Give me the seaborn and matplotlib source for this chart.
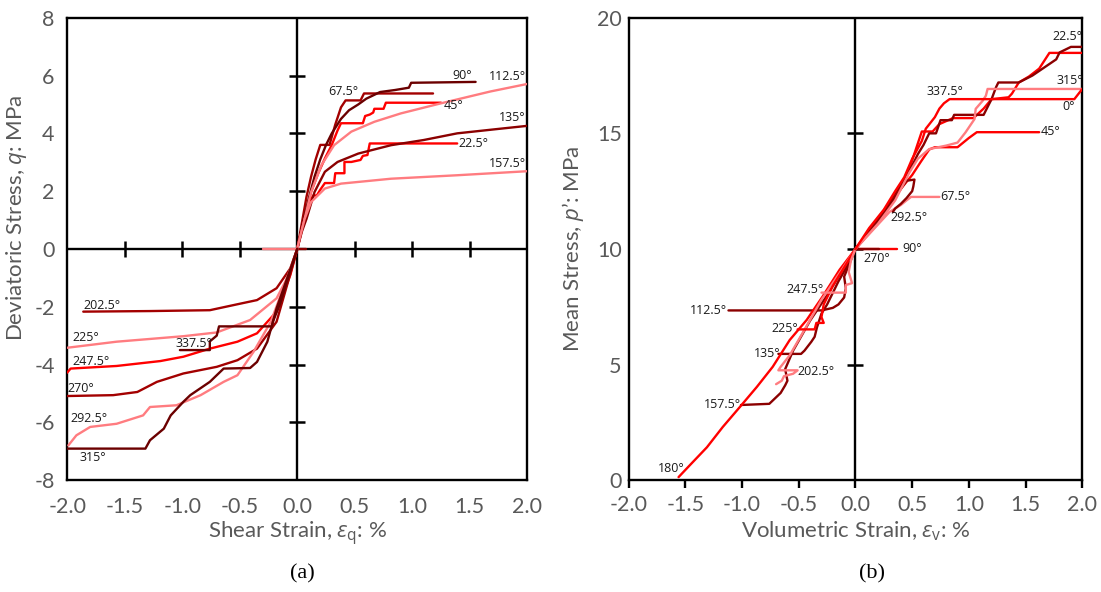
import matplotlib
matplotlib.use("Agg")
import matplotlib.pyplot as plt
import numpy as np
import pandas as pd
import seaborn as sns

# ---------------- panel (a): shear strain (%) vs deviatoric stress q (MPa) ----------------
a_x_0 = [0, 0.08]
a_q_0 = [0, 0]
a_x_22_5 = [0, 0.05, 0.10, 0.14, 0.17, 0.20, 0.24, 0.32, 0.33, 0.41, 0.41, 0.47, 0.55, 0.57, 0.61, 0.63, 1.0, 1.39]
a_q_22_5 = [0, 0.9, 1.6, 1.85, 1.85, 2.05, 2.28, 2.28, 2.62, 2.62, 3.01, 3.01, 3.08, 3.22, 3.25, 3.65, 3.65, 3.65]
a_x_45 = [0, 0.06, 0.12, 0.18, 0.24, 0.30, 0.35, 0.38, 0.57, 0.59, 0.63, 0.66, 0.67, 0.75, 0.77, 1.25]
a_q_45 = [0, 1.0, 1.97, 2.6, 3.13, 3.6, 4.1, 4.35, 4.35, 4.6, 4.65, 4.72, 4.85, 4.85, 5.06, 5.06]
a_x_67_5 = [0, 0.04, 0.08, 0.12, 0.16, 0.20, 0.28, 0.33, 0.38, 0.42, 0.55, 0.58, 1.18]
a_q_67_5 = [0, 0.9, 1.8, 2.5, 3.1, 3.6, 3.6, 4.3, 4.9, 5.14, 5.14, 5.38, 5.38]
a_x_90 = [0, 0.05, 0.10, 0.15, 0.20, 0.25, 0.30, 0.38, 0.45, 0.53, 0.60, 0.72, 0.85, 0.97, 0.99, 1.55]
a_q_90 = [0, 0.9, 1.75, 2.5, 3.1, 3.6, 4.0, 4.5, 4.8, 5.0, 5.2, 5.43, 5.5, 5.58, 5.75, 5.78]
a_x_112_5 = [0, 0.05, 0.12, 0.21, 0.32, 0.47, 0.67, 0.90, 1.25, 1.68, 2.0]
a_q_112_5 = [0, 0.81, 1.97, 2.9, 3.59, 4.06, 4.40, 4.69, 5.04, 5.45, 5.71]
a_x_135 = [0, 0.04, 0.08, 0.15, 0.24, 0.35, 0.53, 0.815, 1.10, 1.39, 1.74, 2.0]
a_q_135 = [0, 0.6, 1.04, 1.97, 2.67, 3.01, 3.30, 3.59, 3.77, 4.0, 4.15, 4.26]
a_x_157_5 = [0, 0.02, 0.064, 0.12, 0.24, 0.38, 0.815, 1.39, 2.0]
a_q_157_5 = [0, 0.35, 1.04, 1.62, 2.09, 2.26, 2.43, 2.55, 2.69]
a_x_180 = [0, -0.3]
a_q_180 = [0, 0]
a_x_202_5 = [0, -0.06, -0.18, -0.35, -0.55, -0.76, -1.28, -1.86]
a_q_202_5 = [0, -0.67, -1.36, -1.77, -1.94, -2.12, -2.15, -2.17]
a_x_225 = [0, -0.06, -0.18, -0.41, -0.70, -0.99, -1.57, -2.0]
a_q_225 = [0, -0.79, -1.71, -2.46, -2.89, -3.02, -3.21, -3.42]
a_x_247_5 = [0, -0.06, -0.18, -0.35, -0.52, -0.76, -0.99, -1.19, -1.57, -1.97, -2.0]
a_q_247_5 = [0, -0.9, -2.17, -2.92, -3.21, -3.45, -3.73, -3.88, -4.05, -4.14, -4.28]
a_x_270 = [0, -0.08, -0.18, -0.35, -0.52, -0.70, -0.99, -1.22, -1.39, -1.6, -2.0]
a_q_270 = [0, -1.13, -2.52, -3.45, -3.85, -4.08, -4.31, -4.6, -4.95, -5.06, -5.09]
a_x_292_5 = [0, -0.09, -0.23, -0.38, -0.52, -0.64, -0.84, -1.05, -1.28, -1.34, -1.57, -1.80, -1.92, -1.99]
a_q_292_5 = [0, -1.02, -2.52, -3.56, -4.37, -4.6, -5.06, -5.41, -5.47, -5.76, -6.05, -6.16, -6.45, -6.80]
a_x_315 = [0, -0.06, -0.18, -0.26, -0.35, -0.41, -0.64, -0.76, -0.93, -0.99, -1.10, -1.16, -1.28, -1.32, -2.0]
a_q_315 = [0, -0.7, -2.06, -3.21, -3.91, -4.12, -4.14, -4.6, -5.06, -5.29, -5.76, -6.22, -6.62, -6.91, -6.91]
a_x_337_5 = [0, -0.08, -0.15, -0.21, -0.22, -0.68, -0.70, -0.76, -0.76, -1.02]
a_q_337_5 = [0, -1.0, -1.9, -2.5, -2.68, -2.68, -3.0, -3.2, -3.5, -3.5]

# ---------------- panel (b): volumetric strain (%) vs mean stress p' (MPa) ----------------
b_x_0 = [0, 0.15, 0.3, 0.45, 0.585, 0.68, 0.74, 0.86, 1.04, 1.13, 1.2, 1.35, 1.38, 1.44, 1.53, 1.62, 1.71, 2.0]
b_p_0 = [10, 11.0, 12.0, 13.1, 15.08, 15.08, 15.4, 15.66, 15.66, 16.07, 16.48, 16.56, 16.72, 17.2, 17.46, 17.8, 18.48, 18.48]
b_x_22_5 = [0, 0.1, 0.25, 0.4, 0.5, 0.55, 0.6, 0.65, 0.71, 0.75, 0.85, 0.87, 1.13, 1.2, 1.24, 1.26, 1.44, 1.56, 1.65, 1.77, 1.8, 1.9, 2.0]
b_p_22_5 = [10, 10.6, 11.6, 12.7, 13.6, 14.1, 14.5, 15.0, 15.0, 15.57, 15.57, 15.8, 15.8, 16.48, 17.0, 17.2, 17.2, 17.5, 17.8, 18.2, 18.5, 18.74, 18.74]
b_x_45 = [0, 0.15, 0.3, 0.4, 0.5, 0.58, 0.65, 0.7, 0.9, 0.95, 1.0, 1.07, 1.62]
b_p_45 = [10, 10.9, 11.9, 12.6, 13.2, 13.8, 14.3, 14.4, 14.4, 14.6, 14.8, 15.05, 15.05]
b_x_67_5 = [0, 0.15, 0.3, 0.4, 0.45, 0.49, 0.74]
b_p_67_5 = [10, 10.8, 11.6, 11.9, 12.1, 12.25, 12.25]
b_x_90 = [0, 0.37]
b_p_90 = [10, 10]
b_x_112_5 = [0, -0.05, -0.1, -0.085, -0.1, -0.15, -0.2, -0.3, -0.345, -1.12]
b_p_112_5 = [10, 9.4, 8.8, 8.3, 7.9, 7.6, 7.45, 7.34, 7.34, 7.34]
b_x_135 = [0, -0.08, -0.15, -0.25, -0.3, -0.34, -0.36, -0.39, -0.45, -0.48, -0.68]
b_p_135 = [10, 9.2, 8.6, 7.6, 7.2, 6.6, 6.2, 5.98, 5.6, 5.46, 5.46]
b_x_157_5 = [0, -0.1, -0.25, -0.4, -0.55, -0.62, -0.6, -0.62, -0.66, -0.76, -1.01]
b_p_157_5 = [10, 9.2, 8.0, 6.9, 5.6, 4.8, 4.3, 4.1, 3.77, 3.3, 3.25]
b_x_180 = [0, -0.14, -0.29, -0.43, -0.58, -0.73, -0.87, -1.02, -1.17, -1.31, -1.45, -1.56]
b_p_180 = [10, 9.1, 7.94, 6.93, 6.06, 4.9, 4.03, 3.16, 2.3, 1.42, 0.7, 0.13]
b_x_202_5 = [0, -0.12, -0.3, -0.45, -0.58, -0.66, -0.68, -0.51, -0.55, -0.63, -0.65, -0.70]
b_p_202_5 = [10, 9.1, 7.8, 6.5, 5.4, 4.9, 4.75, 4.75, 4.6, 4.5, 4.3, 4.15]
b_x_225 = [0, -0.1, -0.2, -0.28, -0.30, -0.28, -0.345, -0.36, -0.51]
b_p_225 = [10, 9.2, 8.4, 7.6, 7.05, 6.8, 6.8, 6.52, 6.52]
b_x_247_5 = [0, -0.04, -0.06, -0.03, -0.085, -0.085, -0.30]
b_p_247_5 = [10, 9.5, 9.0, 8.52, 8.44, 8.11, 8.11]
b_x_270 = [0, 0.21]
b_p_270 = [10, 10]
b_x_292_5 = [0, 0.15, 0.3, 0.4, 0.45, 0.52, 0.51, 0.5, 0.45, 0.4, 0.35, 0.33]
b_p_292_5 = [10, 10.9, 11.9, 12.6, 12.95, 13.0, 12.7, 12.5, 12.2, 11.95, 11.75, 11.6]
b_x_315 = [0, 0.2, 0.35, 0.475, 0.55, 0.65, 0.80, 0.90, 0.97, 1.05, 1.06, 1.12, 1.15, 1.165, 2.0]
b_p_315 = [10, 11.1, 12.1, 13.3, 13.9, 14.32, 14.47, 14.6, 15.04, 15.62, 16.06, 16.4, 16.63, 16.92, 16.92]
b_x_337_5 = [0, 0.12, 0.25, 0.35, 0.43, 0.5, 0.585, 0.62, 0.7, 0.74, 0.78, 0.83, 1.93, 2.0]
b_p_337_5 = [10, 10.9, 11.7, 12.5, 13.1, 13.9, 14.67, 15.2, 15.7, 16.07, 16.3, 16.48, 16.48, 16.92]

# angle names used for labelling the curves
a_names = ["0°", "22.5°", "45°", "67.5°", "90°", "112.5°", "135°", "157.5°", "180°",
           "202.5°", "225°", "247.5°", "270°", "292.5°", "315°", "337.5°"]

MAROON_DK = "#6B0000"
MAROON = "#8B0000"
MAROON_LT = "#A30000"
RED = "#FF0000"
PINK = "#FF7C80"

a_colors = [MAROON, RED, RED, MAROON_LT, MAROON_DK, PINK, MAROON, PINK, PINK,
            MAROON_LT, PINK, RED, MAROON_LT, PINK, MAROON_DK, MAROON_DK]
b_colors = [RED, MAROON, RED, PINK, RED, MAROON, MAROON, MAROON, RED,
            PINK, RED, PINK, MAROON, MAROON, PINK, RED]

a_series = [(a_x_0, a_q_0), (a_x_22_5, a_q_22_5), (a_x_45, a_q_45), (a_x_67_5, a_q_67_5),
            (a_x_90, a_q_90), (a_x_112_5, a_q_112_5), (a_x_135, a_q_135), (a_x_157_5, a_q_157_5),
            (a_x_180, a_q_180), (a_x_202_5, a_q_202_5), (a_x_225, a_q_225), (a_x_247_5, a_q_247_5),
            (a_x_270, a_q_270), (a_x_292_5, a_q_292_5), (a_x_315, a_q_315), (a_x_337_5, a_q_337_5)]
b_series = [(b_x_0, b_p_0), (b_x_22_5, b_p_22_5), (b_x_45, b_p_45), (b_x_67_5, b_p_67_5),
            (b_x_90, b_p_90), (b_x_112_5, b_p_112_5), (b_x_135, b_p_135), (b_x_157_5, b_p_157_5),
            (b_x_180, b_p_180), (b_x_202_5, b_p_202_5), (b_x_225, b_p_225), (b_x_247_5, b_p_247_5),
            (b_x_270, b_p_270), (b_x_292_5, b_p_292_5), (b_x_315, b_p_315), (b_x_337_5, b_p_337_5)]

# label anchor points (data coordinates) for each curve name
a_label_pos = {"90°": (1.43, 6.0), "112.5°": (1.83, 5.95), "67.5°": (0.40, 5.45), "45°": (1.36, 4.98),
               "135°": (1.87, 4.55), "22.5°": (1.53, 3.64), "157.5°": (1.83, 2.95),
               "202.5°": (-1.70, -1.95), "225°": (-1.84, -3.07), "337.5°": (-0.90, -3.28),
               "247.5°": (-1.79, -3.88), "270°": (-1.88, -4.84), "292.5°": (-1.81, -5.86),
               "315°": (-1.78, -7.22)}
b_label_pos = {"22.5°": (1.87, 19.18), "315°": (1.89, 17.3), "337.5°": (0.79, 16.8), "0°": (1.88, 16.15),
               "45°": (1.72, 15.08), "67.5°": (0.88, 12.25), "292.5°": (0.47, 11.36), "90°": (0.50, 10.0),
               "270°": (0.19, 9.59), "247.5°": (-0.445, 8.23), "112.5°": (-1.30, 7.32), "225°": (-0.62, 6.56),
               "135°": (-0.78, 5.46), "202.5°": (-0.345, 4.70), "157.5°": (-1.17, 3.28), "180°": (-1.62, 0.49)}

a_xticks = [-2.0, -1.5, -1.0, -0.5, 0.0, 0.5, 1.0, 1.5, 2.0]
a_yticks = [-8, -6, -4, -2, 0, 2, 4, 6, 8]
b_xticks = [-2.0, -1.5, -1.0, -0.5, 0.0, 0.5, 1.0, 1.5, 2.0]
b_yticks = [0, 5, 10, 15, 20]

sns.set_style("white")
plt.rcParams["font.family"] = ["Lato", "DejaVu Sans"]
plt.rcParams["mathtext.fontset"] = "custom"
plt.rcParams["mathtext.rm"] = "Open Sans"
plt.rcParams["mathtext.it"] = "Open Sans:italic"

GREY = "#595959"
TICK_FS = 15.5
LABEL_FS = 16


def long_frame(series, names):
    parts = []
    for (xs, ys), name in zip(series, names):
        parts.append(pd.DataFrame({"strain": xs, "stress": ys, "angle": name}))
    return pd.concat(parts, ignore_index=True)


def draw_curves(ax, series, colors, label_pos):
    df = long_frame(series, a_names)
    palette = dict(zip(a_names, colors))
    sns.lineplot(data=df, x="strain", y="stress", hue="angle", hue_order=a_names,
                 palette=palette, sort=False, estimator=None, legend=False,
                 linewidth=1.7, ax=ax, zorder=3)
    for name, (lx, ly) in label_pos.items():
        ax.text(lx, ly, name, fontsize=9, color="#1a1a1a", ha="center", va="center",
                zorder=5, family=["Open Sans", "DejaVu Sans"])


def style_frame(ax):
    for s in ax.spines.values():
        s.set_visible(True)
        s.set_color("black")
        s.set_linewidth(1.7)
    ax.set_facecolor("white")


fig = plt.figure(figsize=(11.01, 5.92), dpi=100)
ax_a = fig.add_axes([0.061, 0.189, 0.418, 0.781])
ax_b = fig.add_axes([0.571, 0.189, 0.412, 0.781])

# ---- panel (a) ----
style_frame(ax_a)
ax_a.axhline(0, color="black", lw=1.7, zorder=2)
ax_a.axvline(0, color="black", lw=1.7, zorder=2)
inner_x = [v for v in a_xticks if v not in (0.0, -2.0, 2.0)]
inner_y = [v for v in a_yticks if v not in (0, -8, 8)]
ax_a.plot(inner_x, np.zeros(len(inner_x)), ls="none", marker="|", ms=11, mew=1.8, color="black", zorder=2)
ax_a.plot(np.zeros(len(inner_y)), inner_y, ls="none", marker="_", ms=11, mew=1.8, color="black", zorder=2)
draw_curves(ax_a, a_series, a_colors, a_label_pos)
ax_a.set_xlim(-2, 2)
ax_a.set_ylim(-8, 8)
ax_a.set_xticks(a_xticks)
ax_a.set_xticklabels([f"{v:.1f}" for v in a_xticks])
ax_a.set_yticks(a_yticks)
ax_a.set_yticklabels([str(v) for v in a_yticks])
ax_a.tick_params(axis="x", length=0, pad=12, labelsize=TICK_FS, labelcolor=GREY)
ax_a.tick_params(axis="y", length=0, pad=9, labelsize=TICK_FS, labelcolor=GREY)
ax_a.set_xlabel(r"Shear Strain, $\varepsilon_{\mathrm{q}}$: %", fontsize=LABEL_FS, color=GREY)
ax_a.set_ylabel(r"Deviatoric Stress, $q$: MPa", fontsize=LABEL_FS, color=GREY)
ax_a.xaxis.set_label_coords(0.5, -0.085)
ax_a.yaxis.set_label_coords(-0.083, 0.567)

# ---- panel (b) ----
style_frame(ax_b)
ax_b.axvline(0, color="black", lw=1.7, zorder=2)
inner_p = [v for v in b_yticks if v not in (0, 20)]
ax_b.plot(np.zeros(len(inner_p)), inner_p, ls="none", marker="_", ms=11, mew=1.8, color="black", zorder=2)
draw_curves(ax_b, b_series, b_colors, b_label_pos)
ax_b.set_xlim(-2, 2)
ax_b.set_ylim(0, 20)
ax_b.set_xticks(b_xticks)
ax_b.set_xticklabels([f"{v:.1f}" for v in b_xticks])
ax_b.set_yticks(b_yticks)
ax_b.set_yticklabels([str(v) for v in b_yticks])
ax_b.tick_params(axis="x", direction="out", length=6, width=1.7, color="black", bottom=True,
                 pad=5, labelsize=TICK_FS, labelcolor=GREY)
ax_b.tick_params(axis="y", length=0, pad=5, labelsize=TICK_FS, labelcolor=GREY)
ax_b.set_xlabel(r"Volumetric Strain, $\varepsilon_{\mathrm{v}}$: %", fontsize=LABEL_FS, color=GREY)
ax_b.set_ylabel(r"Mean Stress, $p$’: MPa", fontsize=LABEL_FS, color=GREY)
ax_b.xaxis.set_label_coords(0.5, -0.085)
ax_b.yaxis.set_label_coords(-0.095, 0.5)

# panel captions
fig.text(0.275, 0.030, "(a)", fontsize=16, family="Liberation Serif", ha="center", va="center", color="black")
fig.text(0.792, 0.030, "(b)", fontsize=16, family="Liberation Serif", ha="center", va="center", color="black")

fig.savefig("out.png", dpi=100, facecolor="white")
